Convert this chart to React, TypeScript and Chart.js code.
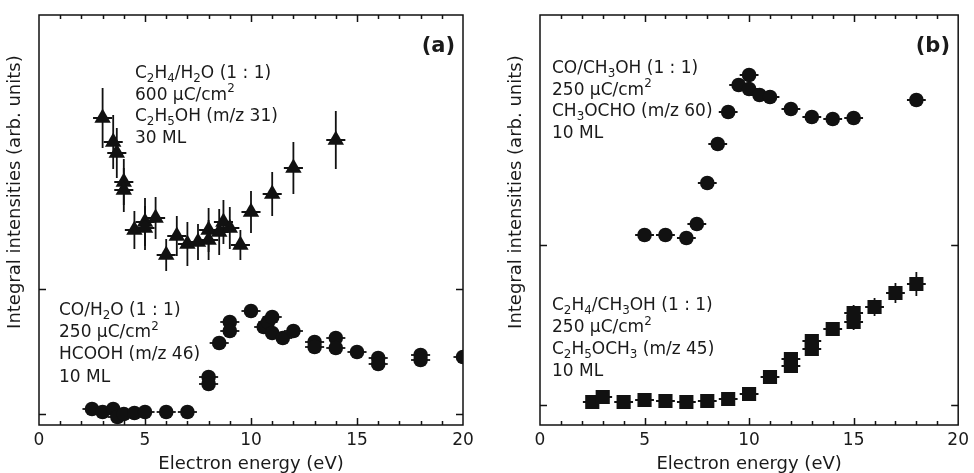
import React, { useEffect, useRef } from 'react';
import { Chart, registerables } from 'chart.js';

Chart.register(...registerables);

const FONT = '"DejaVu Sans", "Liberation Sans", sans-serif';
const INK = '#111111';

// ---------- Data (arbitrary intensity units) ----------
// Panel (a): C2H5OH from C2H4/H2O (triangles)
const ethanolX = [3.0, 3.5, 3.67, 4.0, 4.0, 4.5, 5.0, 5.0, 5.5, 6.0, 6.5, 7.0, 7.5, 8.0, 8.0, 8.5, 8.7, 9.0, 9.5, 10.0, 11.0, 12.0, 14.0];
const ethanolY = [307, 283, 272, 243, 235, 195, 203, 197, 207, 170, 189, 181, 183, 195, 185, 193, 203, 197, 180, 213, 231, 257, 285];
const ethanolErrY = [30, 27, 25, 23, 22, 19, 24, 22, 21, 16, 20, 22, 18, 22, 20, 23, 22, 21, 15, 21, 22, 26, 29];

// Panel (a): HCOOH from CO/H2O (circles)
const formicX = [2.5, 3.0, 3.5, 3.7, 4.0, 4.5, 5.0, 6.0, 7.0, 8.0, 8.0, 8.5, 9.0, 9.0, 10.0, 10.6, 10.8, 11.0, 11.0, 11.5, 12.0, 13.0, 13.0, 14.0, 14.0, 15.0, 16.0, 16.0, 18.0, 18.0, 20.0];
const formicY = [16, 13, 16, 8, 11, 12, 13, 13, 13, 48, 41, 82, 103, 94, 114, 98, 103, 108, 92, 87, 94, 83, 78, 87, 77, 73, 67, 61, 70, 65, 68];

// Panel (b): CH3OCHO from CO/CH3OH (circles)
const formateX = [5.0, 6.0, 7.0, 7.5, 8.0, 8.5, 9.0, 9.5, 10.0, 10.0, 10.5, 11.0, 12.0, 13.0, 14.0, 15.0, 18.0];
const formateY = [190, 190, 187, 201, 242, 281, 313, 340, 350, 336, 330, 328, 316, 308, 306, 307, 325];

// Panel (b): C2H5OCH3 from C2H4/CH3OH (squares)
const etherX = [2.5, 3.0, 4.0, 5.0, 6.0, 7.0, 8.0, 9.0, 10.0, 11.0, 12.0, 12.0, 13.0, 13.0, 14.0, 15.0, 15.0, 16.0, 17.0, 18.0];
const etherY = [23, 28, 23, 25, 24, 23, 24, 26, 31, 48, 66, 59, 84, 76, 96, 112, 103, 118, 132, 141];
const etherErrY = [4, 4, 4, 4, 4, 4, 4, 4, 5, 6, 7, 7, 7, 7, 7, 8, 8, 9, 10, 12];

const energyErr = 0.45;

const xTickValues = [0, 5, 10, 15, 20];
const panelAYTicks = [11, 136];
const panelBYTicks = [20, 180];

const xTitle = 'Electron energy (eV)';
const yTitle = 'Integral intensities (arb. units)';

const labelA1 = ['C_{2}H_{4}/H_{2}O (1 : 1)', '600 μC/cm^{2}', 'C_{2}H_{5}OH (m/z 31)', '30 ML'];
const labelA2 = ['CO/H_{2}O (1 : 1)', '250 μC/cm^{2}', 'HCOOH (m/z 46)', '10 ML'];
const labelB1 = ['CO/CH_{3}OH (1 : 1)', '250 μC/cm^{2}', 'CH_{3}OCHO (m/z 60)', '10 ML'];
const labelB2 = ['C_{2}H_{4}/CH_{3}OH (1 : 1)', '250 μC/cm^{2}', 'C_{2}H_{5}OCH_{3} (m/z 45)', '10 ML'];

// ---------- helpers ----------
function pts(xs: number[], ys: number[]) {
  return xs.map((x, i) => ({ x, y: ys[i] }));
}

function drawRich(ctx: CanvasRenderingContext2D, str: string, x: number, y: number, size: number) {
  const parts = str.split(/(_\{[^}]*\}|\^\{[^}]*\})/).filter((p) => p.length > 0);
  let cx = x;
  for (const p of parts) {
    let txt = p;
    let fs = size;
    let dy = 0;
    if (p.startsWith('_{')) {
      txt = p.slice(2, -1);
      fs = size * 0.7;
      dy = size * 0.24;
    } else if (p.startsWith('^{')) {
      txt = p.slice(2, -1);
      fs = size * 0.7;
      dy = -size * 0.42;
    }
    ctx.font = `${fs}px ${FONT}`;
    ctx.fillText(txt, cx, y + dy);
    cx += ctx.measureText(txt).width;
  }
}

const errorBarPlugin = {
  id: 'errorBars',
  beforeDatasetsDraw(chart: any) {
    const { ctx, chartArea, scales } = chart;
    const xs = scales.x;
    const ys = scales.y;
    ctx.save();
    ctx.beginPath();
    ctx.rect(chartArea.left, chartArea.top, chartArea.right - chartArea.left, chartArea.bottom - chartArea.top);
    ctx.clip();
    ctx.strokeStyle = INK;
    ctx.lineWidth = 1.8;
    chart.data.datasets.forEach((ds: any) => {
      ds.data.forEach((p: any, i: number) => {
        const px = xs.getPixelForValue(p.x);
        const py = ys.getPixelForValue(p.y);
        const ex = ds.errX || 0;
        const ey = ds.errY ? ds.errY[i] : 0;
        ctx.beginPath();
        if (ex) {
          ctx.moveTo(xs.getPixelForValue(p.x - ex), py);
          ctx.lineTo(xs.getPixelForValue(p.x + ex), py);
        }
        if (ey) {
          ctx.moveTo(px, ys.getPixelForValue(p.y - ey));
          ctx.lineTo(px, ys.getPixelForValue(p.y + ey));
        }
        ctx.stroke();
      });
    });
    ctx.restore();
  },
};

const framePlugin = {
  id: 'frameDecor',
  afterDraw(chart: any, _args: any, opts: any) {
    const { ctx, chartArea, scales } = chart;
    const { left, right, top, bottom } = chartArea;
    const xs = scales.x;
    const ys = scales.y;
    ctx.save();
    ctx.strokeStyle = INK;
    ctx.lineWidth = 1.5;
    ctx.strokeRect(left, top, right - left, bottom - top);
    ctx.beginPath();
    for (let v = 1; v < 20; v++) {
      const len = v % 5 === 0 ? 7 : 4;
      const px = Math.round(xs.getPixelForValue(v)) + 0.5;
      ctx.moveTo(px, bottom);
      ctx.lineTo(px, bottom - len);
      ctx.moveTo(px, top);
      ctx.lineTo(px, top + len);
    }
    (opts.yTicks || []).forEach((v: number) => {
      const py = Math.round(ys.getPixelForValue(v)) + 0.5;
      ctx.moveTo(left, py);
      ctx.lineTo(left + 7, py);
      ctx.moveTo(right, py);
      ctx.lineTo(right - 7, py);
    });
    ctx.stroke();

    // y title
    ctx.fillStyle = '#1a1a1a';
    ctx.font = `18px ${FONT}`;
    ctx.textAlign = 'center';
    ctx.textBaseline = 'middle';
    ctx.save();
    ctx.translate(left - 24, top + (bottom - top) * 0.432);
    ctx.rotate(-Math.PI / 2);
    ctx.fillText(yTitle, 0, 0);
    ctx.restore();

    // annotations
    ctx.textAlign = 'left';
    ctx.textBaseline = 'alphabetic';
    (opts.blocks || []).forEach((b: any) => {
      b.lines.forEach((line: string, i: number) => {
        drawRich(ctx, line, b.x, b.y + i * b.dy, 17);
      });
    });

    // panel tag
    ctx.font = `bold 21px ${FONT}`;
    ctx.textAlign = 'right';
    ctx.fillText(opts.tag, opts.tagX, opts.tagY);
    ctx.restore();
  },
};

function makeConfig(datasets: any[], padding: any, yAxisWidth: number, decor: any) {
  return {
    type: 'scatter',
    data: { datasets },
    options: {
      animation: false,
      responsive: false,
      events: [],
      layout: { padding },
      plugins: {
        legend: { display: false },
        tooltip: { enabled: false },
        frameDecor: decor,
      },
      scales: {
        x: {
          type: 'linear',
          min: 0,
          max: 20,
          afterBuildTicks: (s: any) => {
            s.ticks = xTickValues.map((v) => ({ value: v }));
          },
          afterFit: (s: any) => {
            s.height = 48;
          },
          ticks: {
            color: '#1a1a1a',
            font: { family: FONT, size: 17 },
            padding: 5,
            maxRotation: 0,
            callback: (v: any) => String(v),
          },
          grid: { display: false, drawTicks: false },
          border: { display: false },
          title: {
            display: true,
            text: xTitle,
            color: '#1a1a1a',
            font: { family: FONT, size: 18, lineHeight: 1 },
            padding: { top: 0, bottom: 0 },
          },
        },
        y: {
          type: 'linear',
          min: 0,
          max: 410,
          afterFit: (s: any) => {
            s.width = yAxisWidth;
          },
          ticks: { display: false },
          grid: { display: false, drawTicks: false },
          border: { display: false },
        },
      },
    },
    plugins: [errorBarPlugin, framePlugin],
  };
}

function Panel({ config }: { config: any }) {
  const ref = useRef<HTMLCanvasElement | null>(null);
  useEffect(() => {
    if (!ref.current) return;
    const chart = new Chart(ref.current, config);
    return () => chart.destroy();
  }, [config]);
  return <canvas ref={ref} width={487} height={473} style={{ display: 'block', width: 487, height: 473 }} />;
}

const pointBase = {
  showLine: false,
  backgroundColor: INK,
  borderColor: INK,
  borderWidth: 0,
  clip: 0,
  errX: energyErr,
};

const configA = makeConfig(
  [
    { ...pointBase, label: 'C2H5OH', data: pts(ethanolX, ethanolY), errY: ethanolErrY, pointStyle: 'triangle', pointRadius: 9.5 },
    { ...pointBase, label: 'HCOOH', data: pts(formicX, formicY), pointStyle: 'circle', pointRadius: 7.3 },
  ],
  { left: 0, right: 24, top: 15, bottom: 0 },
  39,
  {
    yTicks: panelAYTicks,
    tag: '(a)',
    tagX: 455,
    tagY: 52,
    blocks: [
      { lines: labelA1, x: 135, y: 78, dy: 21.5 },
      { lines: labelA2, x: 59, y: 315, dy: 22.2 },
    ],
  }
);

const configB = makeConfig(
  [
    { ...pointBase, label: 'CH3OCHO', data: pts(formateX, formateY), pointStyle: 'circle', pointRadius: 7.3 },
    { ...pointBase, label: 'C2H5OCH3', data: pts(etherX, etherY), errY: etherErrY, pointStyle: 'rect', pointRadius: 10 },
  ],
  { left: 14, right: 10, top: 15, bottom: 0 },
  39,
  {
    yTicks: panelBYTicks,
    tag: '(b)',
    tagX: 463,
    tagY: 52,
    blocks: [
      { lines: labelB1, x: 65, y: 73, dy: 21.5 },
      { lines: labelB2, x: 65, y: 310, dy: 22 },
    ],
  }
);

export default function App() {
  return (
    <div
      style={{
        position: 'absolute',
        left: 0,
        top: 0,
        width: 974,
        height: 473,
        display: 'flex',
        background: '#ffffff',
        overflow: 'hidden',
      }}
    >
      <Panel config={configA} />
      <Panel config={configB} />
    </div>
  );
}
